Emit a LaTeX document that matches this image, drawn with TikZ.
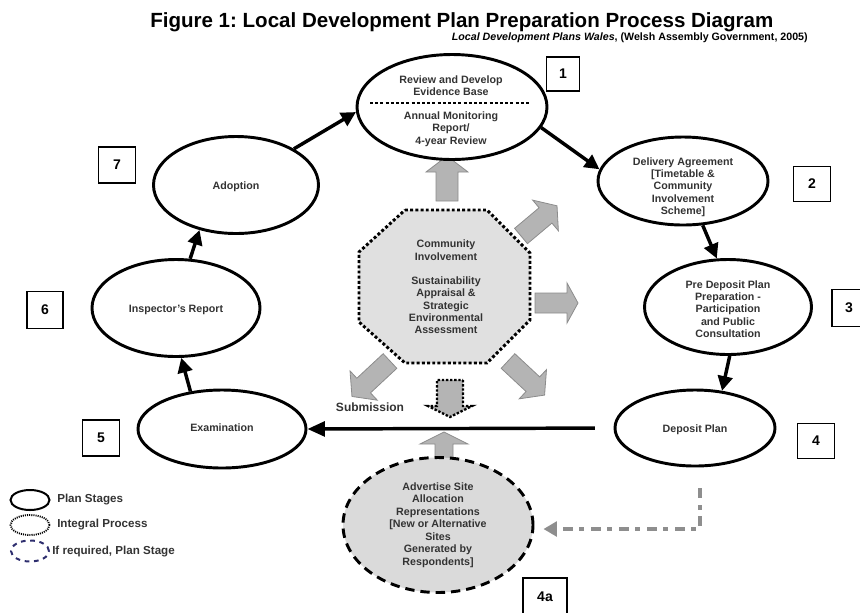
\documentclass[tikz,border=0pt]{standalone}
\usepackage{fontspec}
\setmainfont{Liberation Sans}
\usetikzlibrary{shapes.geometric,arrows.meta}
\frenchspacing
\definecolor{txt}{HTML}{333333}
\definecolor{gfill}{HTML}{B4B4B4}
\definecolor{gedge}{HTML}{8C8C8C}
\definecolor{octfill}{HTML}{E0E0E0}
\definecolor{adfill}{HTML}{DADADA}
\definecolor{navyc}{HTML}{2E2E6E}
\definecolor{gdashc}{HTML}{8E8E8E}
\newcommand\garrow[8][]{%
  \begin{scope}[shift={(#2,#3)},rotate=#4]
    \draw[garrowst,#1] (0,{-#6/2}) -- ({#5-#8},{-#6/2}) -- ({#5-#8},{-#7/2}) -- (#5,0)
      -- ({#5-#8},{#7/2}) -- ({#5-#8},{#6/2}) -- (0,{#6/2}) -- cycle;
  \end{scope}}
\tikzset{
  garrowst/.style={fill=gfill,draw=gedge,line width=0.6pt},
  dotarrow/.style={draw=black,line width=1.8pt,dash pattern=on 1.8pt off 1.3pt},
  stage/.style={ellipse,draw,line width=2.2pt,fill=white,inner sep=0pt},
  sz/.style 2 args={minimum width=#1*0.75pt,minimum height=#2*0.75pt},
  lab/.style={font=\bfseries\fontsize{8}{9.2}\selectfont,text=txt,align=center,inner sep=0pt},
  numbox/.style={draw,line width=1.1pt,font=\bfseries\fontsize{10.5}{12}\selectfont,inner sep=0pt},
  barrow/.style={line width=2.6pt,-{Triangle[length=11pt,width=11pt]}},
  barrowL/.style={line width=2.6pt,-{Triangle[length=13pt,width=11pt]}},
  octst/.style={fill=octfill,draw=black,line width=2.2pt,dash pattern=on 2.2pt off 1.7pt},
  dotline/.style={line width=2.2pt,dash pattern=on 2.2pt off 1.7pt},
  gdashst/.style={draw=gdashc,line width=2.3pt,dash pattern=on 7.5pt off 5pt on 3.5pt off 5pt,
    -{Triangle[length=10pt,width=11pt,fill=gdashc]}},
  leg/.style={font=\bfseries\fontsize{8.7}{10}\selectfont,text=txt,anchor=west,inner sep=0pt},
}
\begin{document}
\begin{tikzpicture}[x=0.75pt,y=-0.75pt]
\useasboundingbox (0,0) rectangle (860,612);
% title
\node[font=\bfseries\fontsize{15.4}{18}\selectfont,anchor=base west,inner sep=0pt] (title) at (150,27)
  {Figure 1: Local Development Plan Preparation Process Diagram};
\node[font=\bfseries\fontsize{8}{9}\selectfont,anchor=base east,inner sep=0pt] (subtitle) at (808,40)
  {\itshape Local Development Plans Wales\upshape, (Welsh Assembly Government, 2005)};
% grey block arrows
\garrow{447}{201}{90}{45}{22}{42}{16}
\garrow{521}{236}{40}{47}{20}{40}{15}
\garrow{535}{303}{0}{43}{20}{40}{11}
\garrow{508}{361}{-43}{50}{20}{40}{16}
\garrow{390}{361}{-137}{52}{20}{40}{16}
\garrow[dotarrow]{450}{380}{-90}{37}{26}{44}{11}
\garrow{444}{462}{90}{30}{18}{48}{12}
% octagon
\draw[octst] (405,210) -- (487,210) -- (530,253) -- (530,320) -- (487,363) -- (405,363) -- (359,322) -- (359,252) -- cycle;
\node[lab] (oct) at (446,287) {Community\\Involvement\\[9.2pt]Sustainability\\Appraisal \&\\Strategic\\Environmental\\Assessment};
% stages
\node[stage,sz={190}{105}] (top) at (452,107) {};
\node[lab] (topa) at (451,86) {Review and Develop\\Evidence Base};
\draw[dotline] (370,103) -- (531,103);
\node[lab] (topb) at (451,129) {Annual Monitoring\\Report/\\4-year Review};
\node[stage,sz={170}{88}] (deliv) at (683,181) {};
\node[lab] (delivt) at (683,187) {Delivery Agreement\\{}[Timetable \&\\Community\\Involvement\\Scheme]};
\node[stage,sz={167}{95}] (predep) at (728,307) {};
\node[lab] (predept) at (728,309) {Pre Deposit Plan\\Preparation -\\Participation\\and Public\\Consultation};
\node[stage,sz={160}{76}] (deposit) at (695,428) {};
\node[lab] (depositt) at (695,430) {Deposit Plan};
\node[stage,sz={168}{78}] (exam) at (222,429) {};
\node[lab] (examt) at (222,428) {Examination};
\node[stage,sz={168}{97}] (insp) at (176,308) {};
\node[lab] (inspt) at (176,310) {Inspector's Report};
\node[stage,sz={165}{97}] (adopt) at (236,185) {};
\node[lab] (adoptt) at (236,187) {Adoption};
\node[stage,sz={190}{135},fill=adfill,dash pattern=on 7pt off 4.5pt] (ad) at (438,525) {};
\node[lab,font=\bfseries\fontsize{8}{9.4}\selectfont] (adt) at (438,525)
  {Advertise Site\\Allocation\\Representations\\{}[New or Alternative\\Sites\\Generated by\\Respondents]};
% black arrows
\draw[barrow] (adopt.32) -- (top.183);
\draw[barrow] (top.-13) -- (deliv.172);
\draw[barrow] (deliv.-66) -- (predep.103);
\draw[barrow] (predep.-88) -- (deposit.54);
\draw[barrowL,shorten <=14pt] (deposit.west) -- (exam.east);
\draw[barrow] (exam.130) -- (insp.-84);
\draw[barrow] (insp.74) -- (adopt.-129);
\node[font=\bfseries\fontsize{9}{11}\selectfont,text=txt,inner sep=0pt] (sub) at (370,407) {Submission};
% dashed grey connector
\draw[gdashst,shorten >=6.75pt] ([xshift=3.75pt,yshift=-15.75pt]deposit.south) |- ([yshift=-3pt]ad.east);
% number boxes
\node[numbox,sz={33}{34}] (n1) at (563,74) {1};
\node[numbox,sz={37}{35}] (n2) at (812,184) {2};
\node[numbox,sz={34}{37}] (n3) at (849,308) {3};
\node[numbox,sz={37}{35}] (n4) at (816,441) {4};
\node[numbox,sz={44}{38}] (n4a) at (545,597) {4a};
\node[numbox,sz={37}{36}] (n5) at (101,438) {5};
\node[numbox,sz={36}{37}] (n6) at (45,310) {6};
\node[numbox,sz={37}{36}] (n7) at (117,165) {7};
% legend
\node[ellipse,draw,line width=1.5pt,sz={39}{20},inner sep=0pt] (lg1) at (30,500) {};
\node[leg] (lgt1) at (57,500) {Plan Stages};
\node[ellipse,draw,line width=1.4pt,dash pattern=on 0.8pt off 0.8pt,sz={39}{20},inner sep=0pt] (lg2) at (30,525) {};
\node[leg] (lgt2) at (57,525) {Integral Process};
\node[ellipse,draw=navyc,line width=1.5pt,dash pattern=on 3.5pt off 3.5pt,sz={38}{21},inner sep=0pt] (lg3) at (30,551) {};
\node[leg] (lgt3) at (52,552) {If required, Plan Stage};
\end{tikzpicture}
\end{document}
